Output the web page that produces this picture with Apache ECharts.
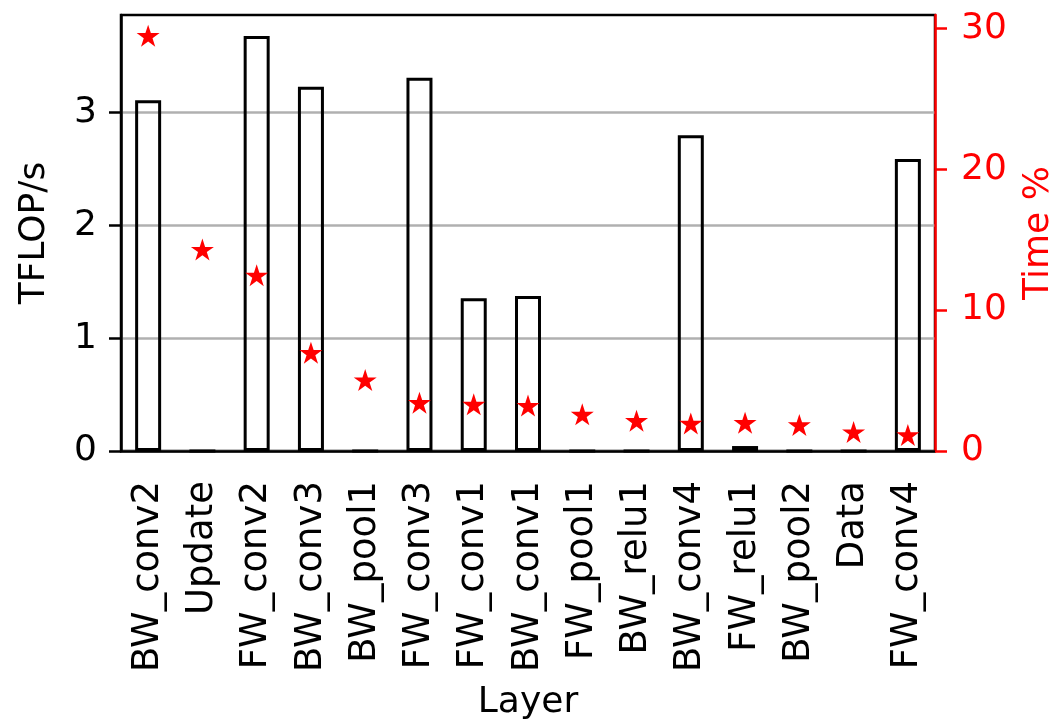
<!DOCTYPE html>
<html>
<head>
<meta charset="utf-8">
<script src="https://cdn.jsdelivr.net/npm/echarts@6/dist/echarts.min.js"></script>
<style>html,body{margin:0;padding:0;background:#fff;}#c{width:1055px;height:721px;}</style>
</head>
<body>
<div id="c"></div>
<script>
const categories = ['BW_conv2','Update','FW_conv2','BW_conv3','BW_pool1','FW_conv3','FW_conv1','BW_conv1','FW_pool1','BW_relu1','BW_conv4','FW_relu1','BW_pool2','Data','FW_conv4'];
const tflops = [3.11, 0, 3.68, 3.23, 0, 3.31, 1.354, 1.374, 0, 0, 2.80, 0.044, 0, 0, 2.59];
const timePct = [29.47, 14.3, 12.47, 6.98, 5.04, 3.43, 3.31, 3.22, 2.6, 2.15, 1.96, 2.01, 1.85, 1.35, 1.14];
const leftTicks = [0, 1, 2, 3];
const rightTicks = [0, 10, 20, 30];

const FONT = 'DejaVu Sans';
const FS = 36;
const FS_CAT = 37;
const star = 'path://M100,0L122.45,69.1L195.1,69.1L136.3,111.8L158.8,180.9L100,138.2L41.2,180.9L63.7,111.8L4.9,69.1L77.55,69.1Z';

const chart = echarts.init(document.getElementById('c'), null, {renderer: 'canvas'});
chart.setOption({
  animation: false,
  backgroundColor: '#fff',
  grid: {left: 121, right: 120, top: 15, bottom: 270, show: true, borderColor: '#000', borderWidth: 2.5, backgroundColor: 'transparent', outerBoundsMode: 'none', containLabel: false},
  xAxis: {
    type: 'category',
    data: categories,
    boundaryGap: true,
    name: 'Layer',
    nameLocation: 'middle',
    nameGap: 234,
    nameTextStyle: {fontFamily: FONT, fontSize: FS, color: '#000'},
    axisLine: {lineStyle: {color: '#000', width: 2.5}},
    axisTick: {alignWithLabel: true, length: 12, lineStyle: {color: '#000', width: 2.5}},
    axisLabel: {rotate: 90, interval: 0, margin: 30, fontFamily: FONT, fontSize: FS_CAT, color: '#000'},
    splitLine: {show: false}
  },
  yAxis: [
    {
      type: 'value',
      min: 0,
      max: 3.866,
      interval: 1,
      name: 'TFLOP/s',
      nameLocation: 'middle',
      nameGap: 68,
      nameTextStyle: {fontFamily: FONT, fontSize: FS, color: '#000'},
      axisLine: {show: true, lineStyle: {color: '#000', width: 2.5}},
      axisTick: {show: true, length: 12, lineStyle: {color: '#000', width: 2.5}, customValues: leftTicks},
      axisLabel: {fontFamily: FONT, fontSize: FS, color: '#000', margin: 24, customValues: leftTicks},
      splitLine: {show: true, lineStyle: {color: '#b0b0b0', width: 2.5}}
    },
    {
      type: 'value',
      min: 0,
      max: 30.94,
      interval: 10,
      position: 'right',
      name: 'Time %',
      nameLocation: 'middle',
      nameGap: 86,
      nameRotate: 90,
      nameTextStyle: {fontFamily: FONT, fontSize: FS, color: '#ff0000'},
      axisLine: {show: true, lineStyle: {color: '#ff0000', width: 2.5}},
      axisTick: {show: true, length: 12, lineStyle: {color: '#ff0000', width: 2.5}, customValues: rightTicks},
      axisLabel: {fontFamily: FONT, fontSize: FS, color: '#ff0000', margin: 26, customValues: rightTicks},
      splitLine: {show: false}
    }
  ],
  series: [
    {
      type: 'bar',
      yAxisIndex: 0,
      data: tflops,
      barWidth: 26,
      itemStyle: {color: 'rgba(0,0,0,0)', borderColor: '#000', borderWidth: 3},
      z: 3
    },
    {
      type: 'scatter',
      yAxisIndex: 1,
      data: timePct,
      symbol: star,
      symbolSize: [23, 22],
      itemStyle: {color: '#ff0000', opacity: 1},
      z: 5
    }
  ]
});
</script>
</body>
</html>
